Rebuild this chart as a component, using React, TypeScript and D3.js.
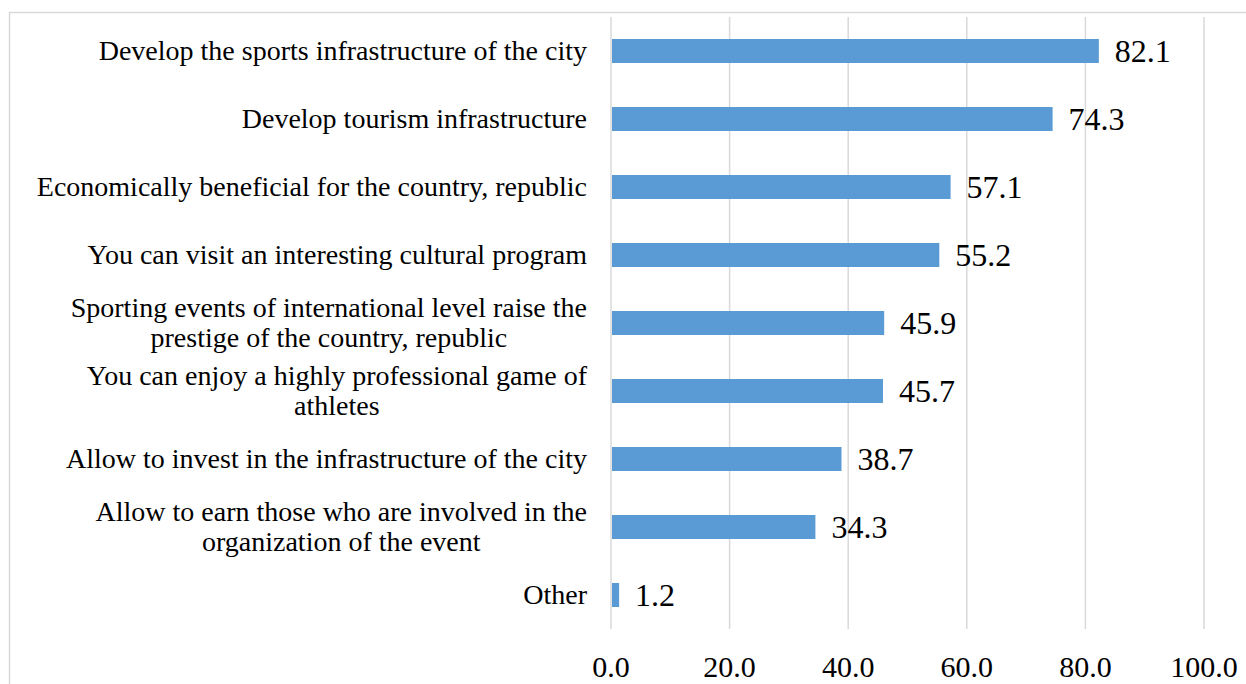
import React, { useEffect, useRef } from 'react'
import * as d3 from 'd3'

// reasons given by respondents (line breaks as in the original chart)
const categories = [
    'Develop the sports infrastructure of the city',
    'Develop tourism infrastructure',
    'Economically beneficial for the country, republic',
    'You can visit an interesting cultural program',
    'Sporting events of international level raise the\nprestige of the country, republic',
    'You can enjoy a highly professional game of\nathletes',
    'Allow to invest in the infrastructure of the city',
    'Allow to earn those who are involved in the\norganization of the event',
    'Other',
]
const values = [82.1, 74.3, 57.1, 55.2, 45.9, 45.7, 38.7, 34.3, 1.2]
const xTicks = [0, 20, 40, 60, 80, 100]

const W = 1246
const H = 684
const FONT = '"Liberation Serif", "Times New Roman", Times, serif'

const App = () => {
    const ref = useRef<SVGSVGElement>(null)

    useEffect(() => {
        const svg = d3.select(ref.current)
        svg.selectAll('*').remove()

        const margin = { top: 17, left: 611, right: 42, bottom: 55 }
        const x = d3.scaleLinear().domain([0, 100]).range([margin.left, W - margin.right])
        const y = d3.scaleBand<number>()
            .domain(d3.range(categories.length))
            .range([margin.top, H - margin.bottom])
            .paddingInner(0.647)
            .paddingOuter(0.3235)

        // outer chart border (runs off the right and bottom edges)
        svg.append('rect')
            .attr('x', 9.5).attr('y', 12.5)
            .attr('width', 1400).attr('height', 800)
            .attr('fill', '#fff')
            .attr('stroke', '#D9D9D9')
            .attr('stroke-width', 1.5)

        // vertical gridlines
        svg.append('g')
            .selectAll('line')
            .data(xTicks)
            .enter().append('line')
            .attr('x1', d => x(d)).attr('x2', d => x(d))
            .attr('y1', margin.top).attr('y2', H - margin.bottom)
            .attr('stroke', '#D9D9D9')
            .attr('stroke-width', 1.5)

        // tick labels
        svg.append('g')
            .selectAll('text')
            .data(xTicks)
            .enter().append('text')
            .attr('x', d => x(d))
            .attr('y', 677)
            .attr('text-anchor', 'middle')
            .style('font-family', FONT)
            .style('font-size', '30px')
            .text(d => d3.format('.1f')(d))

        // bars
        svg.append('g')
            .selectAll('rect')
            .data(values)
            .enter().append('rect')
            .attr('x', x(0) + 1)
            .attr('y', (d, i) => y(i)!)
            .attr('width', d => x(d) - x(0))
            .attr('height', y.bandwidth())
            .attr('fill', '#5B9BD5')

        // value labels
        svg.append('g')
            .selectAll('text')
            .data(values)
            .enter().append('text')
            .attr('x', d => x(d) + 17)
            .attr('y', (d, i) => y(i)! + y.bandwidth() / 2 + 11)
            .style('font-family', FONT)
            .style('font-size', '32px')
            .text(d => d3.format('.1f')(d))

        // category labels: right aligned block, lines centred inside it
        const labelRight = 587
        const lineH = 30
        const labels = svg.append('g')
        categories.forEach((c, i) => {
            const lines = c.split('\n')
            const cy = y(i)! + y.bandwidth() / 2
            const t = labels.append('text')
                .attr('text-anchor', 'middle')
                .style('font-family', FONT)
                .style('font-size', '28px')
            const spans = lines.map((ln, k) =>
                t.append('tspan')
                    .attr('y', cy + 9 + (k - (lines.length - 1) / 2) * lineH)
                    .text(ln)
            )
            const widths = spans.map(s => (s.node() as SVGTSpanElement).getComputedTextLength())
            const maxW = d3.max(widths) || 0
            spans.forEach(s => s.attr('x', labelRight - maxW / 2))
        })
    }, [])

    return (
        <svg
            ref={ref}
            width={W}
            height={H}
            style={{ position: 'absolute', left: 0, top: 0, background: '#fff' }}
        />
    )
}

export default App
